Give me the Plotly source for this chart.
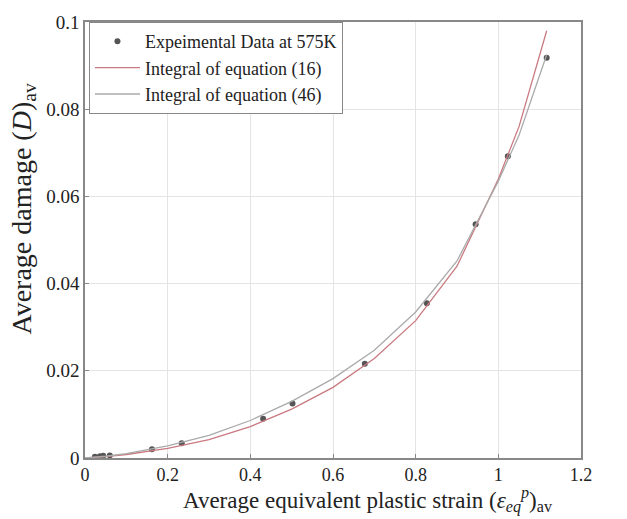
import plotly.graph_objects as go

# Experimental data at 575K
exp_strain = [0.024, 0.036, 0.044, 0.060, 0.162, 0.234, 0.431, 0.502, 0.677, 0.827, 0.945, 1.023, 1.117]
exp_damage = [0.0003, 0.0004, 0.0005, 0.0006, 0.0020, 0.0034, 0.0090, 0.0125, 0.0216, 0.0355, 0.0536, 0.0692, 0.0918]

# Integral of equation (16)
eq16_strain = [0.0, 0.05, 0.1, 0.2, 0.3, 0.4, 0.5, 0.6, 0.7, 0.8, 0.9, 0.95, 1.0, 1.05, 1.117]
eq16_damage = [0.0, 0.0003, 0.0008, 0.0022, 0.0042, 0.0072, 0.0112, 0.0162, 0.0228, 0.0315, 0.0440, 0.0540, 0.0640, 0.0760, 0.0980]

# Integral of equation (46)
eq46_strain = [0.0, 0.05, 0.1, 0.2, 0.3, 0.4, 0.5, 0.6, 0.7, 0.8, 0.9, 0.95, 1.0, 1.05, 1.117]
eq46_damage = [0.0, 0.0004, 0.0010, 0.0028, 0.0052, 0.0086, 0.0130, 0.0182, 0.0247, 0.0335, 0.0452, 0.0545, 0.0635, 0.0740, 0.0925]

x_ticks = [0, 0.2, 0.4, 0.6, 0.8, 1.0, 1.2]
y_ticks = [0, 0.02, 0.04, 0.06, 0.08, 0.1]

x_title = "Average equivalent plastic strain (<i>ε</i><sub><i>eq</i></sub><sup><i>p</i></sup>)<sub>av</sub>"
y_title = "Average damage (<i>D</i>)<sub>av</sub>"

serif = "Liberation Serif, Times New Roman, serif"

fig = go.Figure()
fig.add_trace(go.Scatter(x=exp_strain, y=exp_damage, mode="markers",
                         name="Expeimental Data at 575K",
                         marker=dict(size=6, color="#555555")))
fig.add_trace(go.Scatter(x=eq16_strain, y=eq16_damage, mode="lines",
                         name="Integral of equation (16)",
                         line=dict(color="#c97a80", width=1.3)))
fig.add_trace(go.Scatter(x=eq46_strain, y=eq46_damage, mode="lines",
                         name="Integral of equation (46)",
                         line=dict(color="#aaaaaa", width=1.3)))

fig.update_layout(
    width=627, height=519,
    margin=dict(l=85, r=46, t=18, b=61),
    paper_bgcolor="white", plot_bgcolor="white",
    font=dict(family=serif, color="#222222", size=18),
    showlegend=True,
    legend=dict(x=0.008, y=1.0, xanchor="left", yanchor="top",
                bgcolor="white", bordercolor="#888888", borderwidth=1,
                font=dict(family=serif, size=18, color="#222222"),
                itemwidth=45, tracegroupgap=0),
    annotations=[
        dict(text=x_title, xref="paper", yref="paper", x=0.57, y=-0.056,
             xanchor="center", yanchor="top", showarrow=False,
             font=dict(family=serif, size=23, color="#222222")),
        dict(text=y_title, xref="paper", yref="paper", x=-0.125, y=0.57,
             xanchor="center", yanchor="middle", textangle=-90, showarrow=False,
             font=dict(family=serif, size=28, color="#222222")),
    ],
)
fig.update_xaxes(range=[0, 1.2], tickvals=x_ticks, ticktext=["0", "0.2", "0.4", "0.6", "0.8", "1", "1.2"],
                 showgrid=True, gridcolor="#e4e4e4", gridwidth=1,
                 showline=True, linecolor="#888888", linewidth=1.5, mirror=True,
                 ticks="inside", ticklen=4, tickcolor="#888888",
                 zeroline=False, tickfont=dict(size=18))
fig.update_yaxes(range=[0, 0.1], tickvals=y_ticks, ticktext=["0", "0.02", "0.04", "0.06", "0.08", "0.1"],
                 showgrid=True, gridcolor="#e4e4e4", gridwidth=1,
                 showline=True, linecolor="#888888", linewidth=1.5, mirror=True,
                 ticks="inside", ticklen=4, tickcolor="#888888",
                 zeroline=False, tickfont=dict(size=19))

fig.write_html("out.html")
